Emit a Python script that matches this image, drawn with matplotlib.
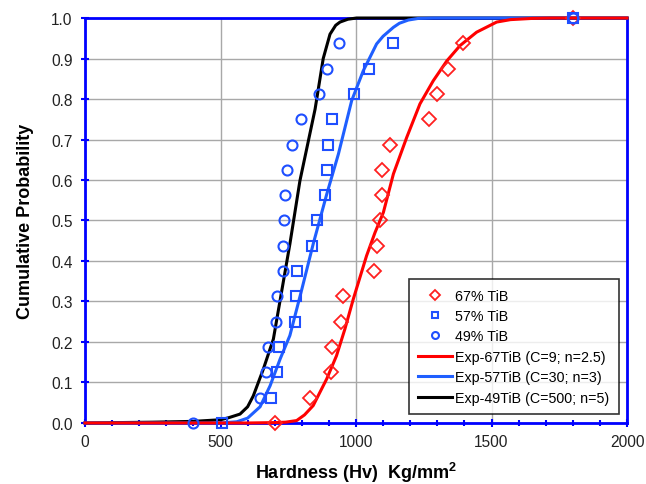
import numpy as np
import matplotlib as mpl
import matplotlib.pyplot as plt
from matplotlib.ticker import MultipleLocator, FormatStrFormatter
mpl.use('Agg')
plt.rcParams['font.family'] = ['Liberation Sans', 'DejaVu Sans']

# measured cumulative probabilities (rank / 16)
prob = [0.0, 0.0625, 0.125, 0.1875, 0.25, 0.3125, 0.375, 0.4375, 0.5,
        0.5625, 0.625, 0.6875, 0.75, 0.8125, 0.875, 0.9375, 1.0]

hv67 = [701, 830, 909, 911, 946, 952, 1066, 1076, 1088,
        1095, 1096, 1124, 1269, 1300, 1338, 1396, 1800]
hv57 = [504, 686, 708, 715, 774, 780, 783, 836, 855,
        887, 892, 895, 913, 994, 1048, 1135, 1800]
hv49 = [400, 646, 667, 677, 704, 710, 729, 729, 734,
        739, 744, 764, 796, 865, 892, 937, 1800]

# fitted curves
fit67_x = [0, 600, 700, 740, 781, 810, 842, 892, 928, 959, 990, 1039, 1070, 1101, 1138,
           1187, 1236, 1285, 1335, 1384, 1445, 1519, 1570, 1650, 1720, 2000]
fit67_y = [0, 0, 0.001, 0.002, 0.006, 0.02, 0.043, 0.109, 0.166, 0.232, 0.306, 0.413, 0.47,
           0.52, 0.615, 0.705, 0.788, 0.845, 0.894, 0.932, 0.965, 0.99, 0.996, 0.999,
           1.0, 1.0]
fit57_x = [0, 500, 560, 600, 646, 683, 720, 756, 800, 842, 892, 935, 984,
           1027, 1076, 1100, 1138, 1160, 1193, 1230, 1285, 2000]
fit57_y = [0, 0, 0.003, 0.012, 0.04, 0.092, 0.158, 0.216, 0.33, 0.442, 0.565, 0.664, 0.796,
           0.87, 0.936, 0.955, 0.977, 0.987, 0.995, 0.999, 1.0, 1.0]
fit49_x = [0, 250, 400, 500, 530, 572, 600, 621, 658, 695, 756, 793, 818, 849,
           879, 904, 925, 941, 970, 1002, 2000]
fit49_y = [0, 0.002, 0.004, 0.008, 0.013, 0.022, 0.04, 0.067, 0.133, 0.207, 0.442, 0.598,
           0.677, 0.775, 0.9, 0.96, 0.982, 0.99, 0.997, 1.0, 1.0]

fig = plt.figure(figsize=(6.46, 4.85), dpi=100)
ax = fig.add_axes([0.1316, 0.1258, 0.839, 0.835])

ax.plot(fit49_x, fit49_y, color='black', lw=2.2, clip_on=False, zorder=4,
        label='Exp-49TiB (C=500; n=5)')
ax.plot(fit57_x, fit57_y, color='#1f5fff', lw=2.2, clip_on=False, zorder=4,
        label='Exp-57TiB (C=30; n=3)')
ax.plot(fit67_x, fit67_y, color='#ff0000', lw=2.2, clip_on=False, zorder=4,
        label='Exp-67TiB (C=9; n=2.5)')

ax.plot(hv67, prob, 'D', ms=7, mfc='none', mec='#ff2020', mew=1.3,
        clip_on=False, zorder=5, label='67% TiB')
ax.plot(hv57, prob, 's', ms=7.5, mfc='none', mec='#1f4fff', mew=1.5,
        clip_on=False, zorder=5, label='57% TiB')
ax.plot(hv49, prob, 'o', ms=7.2, mfc='none', mec='#1f4fff', mew=1.5,
        clip_on=False, zorder=5, label='49% TiB')

ax.set_xlim(0, 2000)
ax.set_ylim(0, 1.0)
ax.xaxis.set_major_locator(MultipleLocator(500))
ax.xaxis.set_minor_locator(MultipleLocator(100))
ax.yaxis.set_major_locator(MultipleLocator(0.1))
ax.yaxis.set_major_formatter(FormatStrFormatter('%.1f'))
ax.grid(True, color='#a8a8a8', lw=1)
ax.set_axisbelow(True)
for s in ax.spines.values():
    s.set_color('#0000ff')
    s.set_linewidth(2)
ax.tick_params(which='both', direction='inout', color='#0000ff', width=1.5,
               labelsize=11.2, labelcolor='#222222')
ax.tick_params(which='major', length=6)
ax.tick_params(which='minor', length=5)
ax.tick_params(axis='x', pad=5)
ax.tick_params(axis='y', pad=6)

ax.set_xlabel('Hardness (Hv)  Kg/mm$^\\mathregular{2}$', fontsize=13,
              fontweight='bold', labelpad=8)
ax.set_ylabel('Cumulative Probability', fontsize=13, fontweight='bold',
              labelpad=12)

h, l = ax.get_legend_handles_labels()
order = [3, 4, 5, 2, 1, 0]
leg = ax.legend([h[i] for i in order], [l[i] for i in order],
                loc='lower right', bbox_to_anchor=(0.985, 0.022),
                borderaxespad=0, fontsize=10.3, frameon=True, fancybox=False,
                borderpad=0.65, labelspacing=0.45, handlelength=2.4,
                handletextpad=0.2)
leg.get_frame().set_edgecolor('black')
leg.get_frame().set_linewidth(1.2)
for i in range(3):
    leg.legend_handles[i].set_markersize(5)
leg.set_zorder(6)

fig.savefig('out.png', dpi=100)
